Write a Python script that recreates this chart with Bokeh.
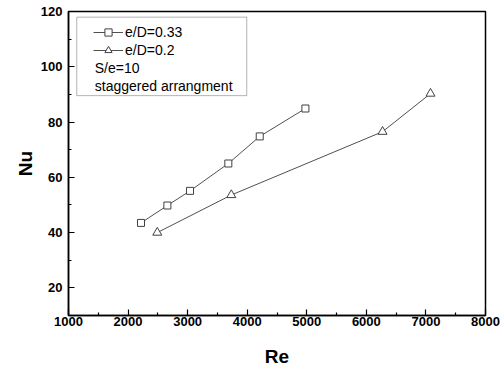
from bokeh.plotting import figure
from bokeh.models import Legend, LegendItem, Label, BoxAnnotation, Range1d, FixedTicker
from bokeh.embed import file_html
from bokeh.resources import INLINE

re_033 = [2217, 2660, 3040, 3683, 4210, 4977]
nu_033 = [43.5, 49.8, 55.1, 65.0, 74.8, 84.9]
re_02 = [2490, 3733, 6272, 7077]
nu_02 = [40.0, 53.6, 76.5, 90.3]
x_ticks = [1000, 2000, 3000, 4000, 5000, 6000, 7000, 8000]
y_ticks = [20, 40, 60, 80, 100, 120]
labels = ["e/D=0.33", "e/D=0.2"]
notes = ["S/e=10", "staggered arrangment"]

FONT = "Liberation Sans"
LINE = "#505050"

p = figure(width=500, height=369, output_backend="svg", toolbar_location=None,
           x_range=Range1d(1000, 8000), y_range=Range1d(10, 120),
           min_border_left=68, min_border_right=15, min_border_top=11, min_border_bottom=52)
p.grid.visible = False
p.background_fill_color = "white"
p.border_fill_color = "white"
p.outline_line_color = "black"
p.outline_line_width = 1.5

for ax in (p.xaxis[0], p.yaxis[0]):
    ax.axis_line_width = 1.5
    ax.axis_line_color = "black"
    ax.major_tick_in = 6
    ax.major_tick_out = 0
    ax.minor_tick_in = 3
    ax.minor_tick_out = 0
    ax.major_tick_line_width = 1.2
    ax.minor_tick_line_width = 1.2
    ax.major_label_text_font = FONT
    ax.major_label_text_font_style = "bold"
    ax.major_label_text_font_size = "13px"
    ax.major_label_text_color = "black"
    ax.axis_label_text_font = FONT
    ax.axis_label_text_font_style = "bold"
    ax.axis_label_text_font_size = "19px"
    ax.axis_label_text_color = "black"

p.xaxis.ticker = FixedTicker(ticks=x_ticks, minor_ticks=[v + 500 for v in x_ticks[:-1]])
p.yaxis.ticker = FixedTicker(ticks=y_ticks, minor_ticks=[v + 10 for v in y_ticks[:-1]])
p.xaxis.major_label_standoff = 1
p.yaxis.major_label_standoff = 6
p.xaxis.axis_label = "Re"
p.yaxis.axis_label = "Nu"
p.xaxis.axis_label_standoff = 17
p.yaxis.axis_label_standoff = 2

l1 = p.line(re_033, nu_033, line_color=LINE, line_width=1)
s1 = p.scatter(re_033, nu_033, marker="square", size=7, line_color="#404040",
               fill_color="white", line_width=1)
l2 = p.line(re_02, nu_02, line_color=LINE, line_width=1)
s2 = p.scatter(re_02, nu_02, marker="triangle", size=9, line_color="#404040",
               fill_color="white", line_width=1)

box = BoxAnnotation(left=1139, right=3992, top=117.95, bottom=89.55,
                    fill_alpha=0, line_color="black", line_width=1)
p.add_layout(box)

legend = Legend(items=[LegendItem(label=labels[0], renderers=[l1, s1]),
                       LegendItem(label=labels[1], renderers=[l2, s2])],
                location=(25, 256), padding=0, margin=0, spacing=0,
                glyph_width=30, glyph_height=18, label_height=18,
                label_standoff=2, border_line_color=None,
                background_fill_alpha=0,
                label_text_font=FONT, label_text_font_size="14px",
                label_text_color="black")
p.add_layout(legend)

for i, t in enumerate(notes):
    p.add_layout(Label(x=1441, y=99.6 - i * 6.47, text=t, text_font=FONT,
                       text_font_size="14px", text_color="black",
                       text_baseline="middle", text_align="left"))

open("out.html", "w").write(file_html(p, INLINE))
